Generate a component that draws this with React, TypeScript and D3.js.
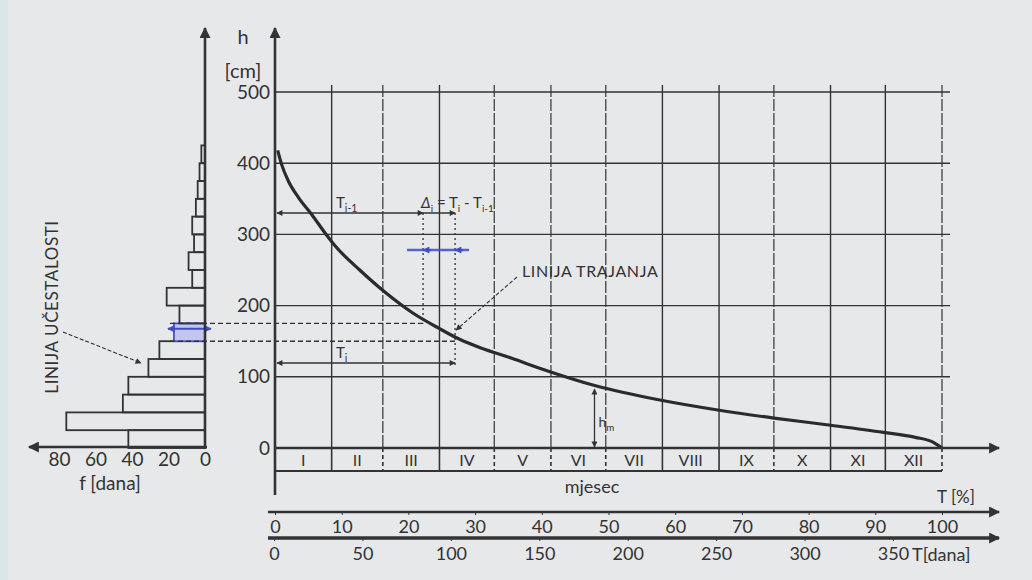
import { useEffect, useRef } from 'react';
import * as d3 from 'd3';

// duration curve (T in %, h in cm)
const durationT = [0.4, 1.0, 2.0, 3.5, 5.5, 7.5, 9.0, 12.7, 16.6, 20.6, 24.6, 27.6, 31.0, 35.5, 40.0, 48.2, 57.9, 66.6, 74.8, 83.3, 91.2, 96.0, 98.7, 100];
const durationH = [418, 398, 375, 352, 328, 302, 284, 250, 218, 190, 168, 153, 140, 126, 111, 87, 67, 53, 42, 32, 22, 15, 8, 0];

// frequency histogram, bins of 25 cm
const histBinStart = [0, 25, 50, 75, 100, 125, 150, 175, 200, 225, 250, 275, 300, 325, 350, 375, 400];
const histFreq = [42, 76, 45, 42, 31, 25, 17, 14, 21, 7, 9, 6, 7, 5, 4, 3, 2];
const BIN = 25;
const highlightBin = 150;

const monthNames = ['I', 'II', 'III', 'IV', 'V', 'VI', 'VII', 'VIII', 'IX', 'X', 'XI', 'XII'];
const monthDays = [31, 28, 31, 30, 31, 30, 31, 31, 30, 31, 30, 31];

const hTicks = [0, 100, 200, 300, 400, 500];
const fTicks = [0, 20, 40, 60, 80];
const percentTicks = [0, 10, 20, 30, 40, 50, 60, 70, 80, 90, 100];
const dayTicks = [0, 50, 100, 150, 200, 250, 300, 350];

// construction values
const T_prev = 22.2; // T(i-1) in %
const T_cur = 27.0; // T(i) in %
const h_mean = 84;
const T_mean = 47.9;

const INK = '#333';
const FONT = 'Lato, "Open Sans", sans-serif';

export default function App() {
  const svgRef = useRef<SVGSVGElement>(null);

  useEffect(() => {
    if (!svgRef.current) return;
    const svg = d3.select(svgRef.current);
    svg.selectAll('*').remove();

    const xT = d3.scaleLinear().domain([0, 100]).range([275, 942]);
    const xDay = d3.scaleLinear().domain([0, 365]).range([275, 942]);
    const xDayAxis = d3.scaleLinear().domain([0, 350]).range([274, 893]);
    const yH = d3.scaleLinear().domain([0, 500]).range([448, 92]);
    const xF = d3.scaleLinear().domain([0, 80]).range([205, 59]);

    // background
    svg.append('rect').attr('width', 1032).attr('height', 580).attr('fill', '#e7e8ea');
    svg.append('rect').attr('width', 8).attr('height', 580).attr('fill', '#dbe6ea');

    const defs = svg.append('defs');
    const mk = (id: string, w: number, h: number, color: string) =>
      defs
        .append('marker')
        .attr('id', id)
        .attr('viewBox', '0 0 10 10')
        .attr('refX', 9)
        .attr('refY', 5)
        .attr('markerUnits', 'userSpaceOnUse')
        .attr('markerWidth', w)
        .attr('markerHeight', h)
        .attr('orient', 'auto-start-reverse')
        .append('path')
        .attr('d', 'M0,0 L10,5 L0,10 z')
        .attr('fill', color);
    mk('big', 16, 11, INK);
    mk('small', 8, 6, INK);
    mk('blue', 9, 7, '#3d4cc8');

    // month boundaries (cumulative days)
    const bounds = d3.cumsum(monthDays) as unknown as number[];
    const dashedBounds = new Set([59, 120, 151, 181, 273, 365]);

    // vertical grid
    const grid = svg.append('g').attr('stroke', INK).attr('stroke-width', 1.4);
    bounds.forEach((d) => {
      grid
        .append('line')
        .attr('x1', xDay(d))
        .attr('x2', xDay(d))
        .attr('y1', 85)
        .attr('y2', yH(0))
        .attr('stroke-dasharray', dashedBounds.has(d) ? '12,2' : null)
        .attr('opacity', dashedBounds.has(d) ? 0.85 : 1);
    });
    // horizontal grid
    hTicks.slice(1).forEach((h) => {
      grid
        .append('line')
        .attr('x1', 275)
        .attr('x2', 950)
        .attr('y1', yH(h))
        .attr('y2', yH(h));
    });

    // month row
    const mrow = svg.append('g');
    mrow.append('line').attr('x1', 275).attr('x2', 942).attr('y1', 471).attr('y2', 471).attr('stroke', INK).attr('stroke-width', 2);
    bounds.forEach((d) => {
      mrow
        .append('line')
        .attr('x1', xDay(d))
        .attr('x2', xDay(d))
        .attr('y1', 448)
        .attr('y2', 471)
        .attr('stroke', INK)
        .attr('stroke-width', 1.6)
        .attr('stroke-dasharray', dashedBounds.has(d) ? '4,3' : null);
    });
    monthNames.forEach((m, i) => {
      const a = i === 0 ? 0 : bounds[i - 1];
      mrow
        .append('text')
        .attr('x', xDay((a + bounds[i]) / 2))
        .attr('y', 466)
        .attr('text-anchor', 'middle')
        .attr('font-family', FONT)
        .attr('font-size', 16)
        .attr('fill', INK)
        .text(m);
    });
    svg.append('text').attr('x', 592).attr('y', 493).attr('text-anchor', 'middle').attr('font-family', FONT).attr('font-size', 18).attr('fill', INK).text('mjesec');

    // histogram
    const hist = svg.append('g');
    histBinStart.forEach((b, i) => {
      const hl = b === highlightBin;
      hist
        .append('rect')
        .attr('x', xF(histFreq[i]))
        .attr('y', yH(b + BIN))
        .attr('width', xF(0) - xF(histFreq[i]))
        .attr('height', yH(b) - yH(b + BIN))
        .attr('fill', hl ? '#c3c6ef' : 'none')
        .attr('stroke', hl ? '#4652c4' : INK)
        .attr('stroke-width', 1.8);
    });
    // blue marker on histogram
    hist
      .append('line')
      .attr('x1', xF(histFreq[6]) - 6)
      .attr('x2', xF(0) + 6)
      .attr('y1', yH(highlightBin + BIN * 0.7))
      .attr('y2', yH(highlightBin + BIN * 0.7))
      .attr('stroke', '#3d4cc8')
      .attr('stroke-width', 2)
      .attr('marker-start', 'url(#blue)')
      .attr('marker-end', 'url(#blue)');

    // dashed level lines from histogram bin to curve
    [
      [highlightBin + BIN, T_prev],
      [highlightBin, T_cur],
    ].forEach(([h, t]) => {
      svg
        .append('line')
        .attr('x1', xF(histFreq[6]) - 4)
        .attr('x2', xT(t))
        .attr('y1', yH(h))
        .attr('y2', yH(h))
        .attr('stroke', INK)
        .attr('stroke-width', 1.4)
        .attr('stroke-dasharray', '5,3');
    });

    // dotted verticals at T(i-1), T(i)
    svg.append('line').attr('x1', xT(T_prev)).attr('x2', xT(T_prev)).attr('y1', 213).attr('y2', yH(highlightBin + BIN)).attr('stroke', INK).attr('stroke-width', 1.3).attr('stroke-dasharray', '2,3');
    svg.append('line').attr('x1', xT(T_cur)).attr('x2', xT(T_cur)).attr('y1', 213).attr('y2', 366).attr('stroke', INK).attr('stroke-width', 1.3).attr('stroke-dasharray', '2,3');

    // T(i-1) and T(i) dimension arrows
    svg.append('line').attr('x1', 277).attr('x2', xT(T_prev)).attr('y1', 213).attr('y2', 213).attr('stroke', INK).attr('stroke-width', 1.4).attr('marker-start', 'url(#small)').attr('marker-end', 'url(#small)');
    svg.append('line').attr('x1', xT(T_prev)).attr('x2', xT(T_cur)).attr('y1', 213).attr('y2', 213).attr('stroke', INK).attr('stroke-width', 1.4).attr('marker-end', 'url(#small)');
    svg.append('line').attr('x1', 277).attr('x2', xT(T_cur)).attr('y1', 363).attr('y2', 363).attr('stroke', INK).attr('stroke-width', 1.4).attr('marker-start', 'url(#small)').attr('marker-end', 'url(#small)');

    // blue delta arrows
    const by = 250;
    svg.append('line').attr('x1', xT(T_prev) - 16).attr('x2', xT(T_cur) + 14).attr('y1', by).attr('y2', by).attr('stroke', '#3d4cc8').attr('stroke-width', 2.5).attr('opacity', 0.85);
    svg.append('line').attr('x1', xT(T_prev) + 8).attr('x2', xT(T_prev)).attr('y1', by).attr('y2', by).attr('stroke', '#3d4cc8').attr('stroke-width', 2).attr('marker-end', 'url(#blue)');
    svg.append('line').attr('x1', xT(T_cur) + 8).attr('x2', xT(T_cur)).attr('y1', by).attr('y2', by).attr('stroke', '#3d4cc8').attr('stroke-width', 2).attr('marker-end', 'url(#blue)');

    const sub = (x: number, y: number, main: string, s: string, size = 15) => {
      const t = svg.append('text').attr('x', x).attr('y', y).attr('font-family', FONT).attr('font-size', size).attr('fill', INK);
      t.append('tspan').text(main);
      t.append('tspan').attr('dy', 4).attr('font-size', size * 0.7).text(s);
      return t;
    };
    sub(336, 208, 'T', 'i-1');
    sub(336, 358, 'T', 'i');
    const dl = svg.append('text').attr('x', xT(T_prev) - 2).attr('y', 208).attr('font-family', FONT).attr('font-size', 15).attr('fill', INK);
    dl.append('tspan').attr('font-style', 'italic').text('Δ');
    dl.append('tspan').attr('dy', 4).attr('font-size', 10).text('i');
    dl.append('tspan').attr('dy', -4).text(' = T');
    dl.append('tspan').attr('dy', 4).attr('font-size', 10).text('i');
    dl.append('tspan').attr('dy', -4).text(' - T');
    dl.append('tspan').attr('dy', 4).attr('font-size', 10).text('i-1');

    // duration curve
    const line = d3
      .line<number>()
      .x((_, i) => xT(durationT[i]))
      .y((h) => yH(h))
      .curve(d3.curveMonotoneX);
    svg.append('path').attr('d', line(durationH)).attr('fill', 'none').attr('stroke', '#2b2b2b').attr('stroke-width', 3.2);

    // h_m
    svg.append('line').attr('x1', xT(T_mean)).attr('x2', xT(T_mean)).attr('y1', yH(0) - 1).attr('y2', yH(h_mean) + 1).attr('stroke', INK).attr('stroke-width', 1.3).attr('marker-start', 'url(#small)').attr('marker-end', 'url(#small)');
    sub(xT(T_mean) + 4, 427, 'h', 'm', 14);

    // LINIJA TRAJANJA
    svg.append('text').attr('x', 522).attr('y', 277).attr('font-family', FONT).attr('font-size', 16).attr('letter-spacing', 0.6).attr('fill', INK).text('LINIJA TRAJANJA');
    svg.append('line').attr('x1', 517).attr('x2', xT(T_cur) + 1).attr('y1', 277).attr('y2', 330).attr('stroke', INK).attr('stroke-width', 1.1).attr('stroke-dasharray', '4,2').attr('marker-end', 'url(#small)');

    // LINIJA UČESTALOSTI
    svg.append('text').attr('transform', 'translate(58,307) rotate(-90)').attr('text-anchor', 'middle').attr('font-family', FONT).attr('font-size', 17).attr('letter-spacing', 0.6).attr('fill', INK).text('LINIJA UČESTALOSTI');
    svg.append('line').attr('x1', 63).attr('x2', 141).attr('y1', 332).attr('y2', 363).attr('stroke', INK).attr('stroke-width', 1.1).attr('stroke-dasharray', '4,2').attr('marker-end', 'url(#small)');

    // axes
    const ax = svg.append('g').attr('stroke', INK).attr('stroke-width', 2.6);
    ax.append('line').attr('x1', 275).attr('x2', 275).attr('y1', 495).attr('y2', 28).attr('marker-end', 'url(#big)');
    ax.append('line').attr('x1', 205).attr('x2', 205).attr('y1', 449).attr('y2', 28).attr('marker-end', 'url(#big)');
    ax.append('line').attr('x1', 207).attr('x2', 29).attr('y1', 447).attr('y2', 447).attr('marker-end', 'url(#big)');
    ax.append('line').attr('x1', 275).attr('x2', 999).attr('y1', 448).attr('y2', 448).attr('marker-end', 'url(#big)');
    ax.append('line').attr('x1', 268).attr('x2', 999).attr('y1', 512).attr('y2', 512).attr('stroke-width', 2.4).attr('marker-end', 'url(#big)');
    ax.append('line').attr('x1', 268).attr('x2', 999).attr('y1', 538).attr('y2', 538).attr('stroke-width', 3.4).attr('marker-end', 'url(#big)');

    const styleAxis = (g: d3.Selection<SVGGElement, unknown, null, undefined>, size: number) => {
      g.select('.domain').remove();
      g.selectAll('line').attr('stroke', INK);
      g.selectAll('text').attr('font-family', FONT).attr('font-size', size).attr('fill', INK);
    };

    const gy = svg.append('g').attr('transform', 'translate(270,0)').call(d3.axisLeft(yH).tickValues(hTicks).tickSize(0).tickPadding(0));
    styleAxis(gy, 19);
    const gf = svg.append('g').attr('transform', 'translate(0,447)').call(d3.axisBottom(xF).tickValues(fTicks).tickSize(0).tickPadding(6));
    styleAxis(gf, 19);
    const gp = svg.append('g').attr('transform', 'translate(0,512)').call(d3.axisBottom(xT).tickValues(percentTicks).tickSize(3).tickPadding(5));
    styleAxis(gp, 18);
    const gd = svg.append('g').attr('transform', 'translate(0,538)').call(d3.axisBottom(xDayAxis).tickValues(dayTicks).tickSize(3).tickPadding(6));
    styleAxis(gd, 18);

    const lbl = (x: number, y: number, s: string, size: number, anchor = 'start') =>
      svg.append('text').attr('x', x).attr('y', y).attr('text-anchor', anchor).attr('font-family', FONT).attr('font-size', size).attr('fill', INK).text(s);
    lbl(243, 44, 'h', 20, 'middle');
    lbl(243, 78, '[cm]', 20, 'middle');
    lbl(110, 490, 'f [dana]', 19, 'middle');
    lbl(956, 503, 'T [%]', 17, 'middle');
    lbl(912, 561, 'T[dana]', 18);
  }, []);

  return <svg ref={svgRef} width={1032} height={580} style={{ position: 'absolute', left: 0, top: 0 }} />;
}
